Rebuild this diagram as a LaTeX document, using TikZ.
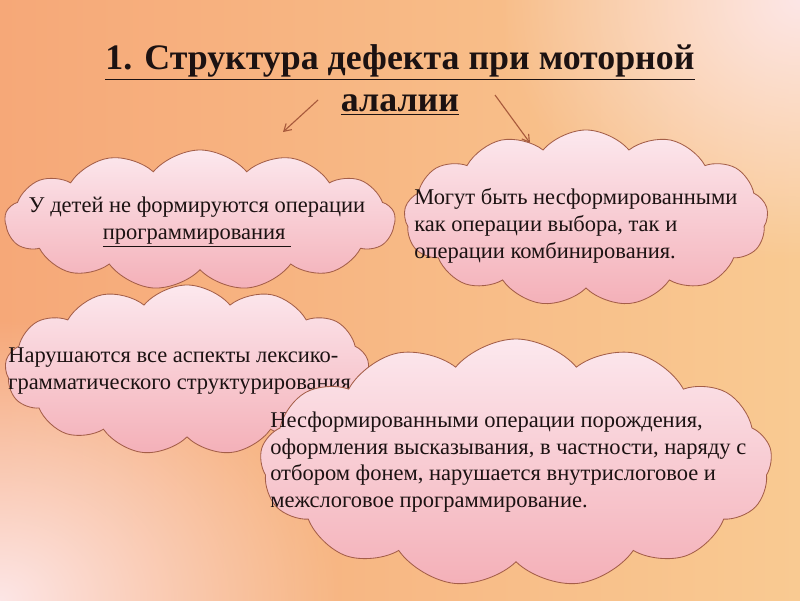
\documentclass[tikz,border=0pt]{standalone}
\usepackage{fontspec}
\setmainfont{Liberation Serif}
\usetikzlibrary{shapes.symbols,fadings,arrows.meta}
\definecolor{bgorange}{HTML}{F6A878}
\definecolor{bglight}{HTML}{F9CA92}
\definecolor{bgpink}{HTML}{FDE6E6}
\definecolor{cloudtop}{HTML}{FCE8EE}
\definecolor{cloudbot}{HTML}{F4B0B8}
\definecolor{cloudline}{HTML}{A45E48}
\definecolor{arrowcol}{HTML}{A85A3C}
\definecolor{textcol}{HTML}{1C1212}
\tikzfading[name=glowfade, inner color=transparent!0, outer color=transparent!100]
\begin{document}
\begin{tikzpicture}[x=.025cm, y=-.025cm,
	cloudbox/.style={cloud, cloud puffs=13, cloud puff arc=100, cloud ignores aspect, draw=cloudline, line width=.6pt, top color=cloudtop, bottom color=cloudbot, inner sep=0pt},
	txt/.style={font=\fontsize{16}{19}\selectfont, text=textcol, inner sep=0pt},
	pointer/.style={draw=arrowcol, line width=.8pt, -{Straight Barb[length=5pt,width=6pt]}}]
	\useasboundingbox (0,0) rectangle (800,600);
	% background
	\shade[left color=bgorange, right color=bglight] (0,0) rectangle (800,600);
	\fill[bgpink, path fading=glowfade] (800,0) ellipse [x radius=300, y radius=260];
	\fill[bgpink, path fading=glowfade] (0,600) ellipse [x radius=340, y radius=280];
	% title
	\node[font=\fontsize{25.5}{30}\selectfont\bfseries, text=textcol, align=center] (title) at (400,80)
		{\underline{1. Структура дефекта при моторной}\\\underline{алалии}};
	\coordinate (la) at (318,100);
	\coordinate (lb) at (283,132);
	\coordinate (ra) at (495,95);
	\coordinate (rb) at (530,143);
	\draw[pointer] (la) -- (lb);
	\draw[pointer] (ra) -- (rb);
	% clouds
	\node[cloudbox, minimum width=9.75cm, minimum height=3.5cm]  (cloudA) at (200,220) {};
	\node[txt, align=center] (textA) at (197,222) {У детей не формируются операции\\\underline{программирования\ }};
	\node[cloudbox, minimum width=9.1cm, minimum height=4.4cm]   (cloudB) at (586,218) {};
	\node[txt, align=left, anchor=west] (textB) at (414,226) {Могут быть несформированными\\как операции выбора, так и\\операции комбинирования.};
	\node[cloudbox, minimum width=9.1cm, minimum height=4.25cm]  (cloudC) at (187,370) {};
	\node[txt, align=left, anchor=west] (textC) at (8,371) {Нарушаются все аспекты лексико-\\грамматического структурирования.};
	\node[cloudbox, minimum width=12.8cm, minimum height=6.2cm]  (cloudD) at (516,463) {};
	\node[txt, align=left, anchor=west] (textD) at (270,462) {Несформированными операции порождения,\\оформления высказывания, в частности, наряду с\\отбором фонем, нарушается внутрислоговое и\\межслоговое программирование.};
\end{tikzpicture}
\end{document}
